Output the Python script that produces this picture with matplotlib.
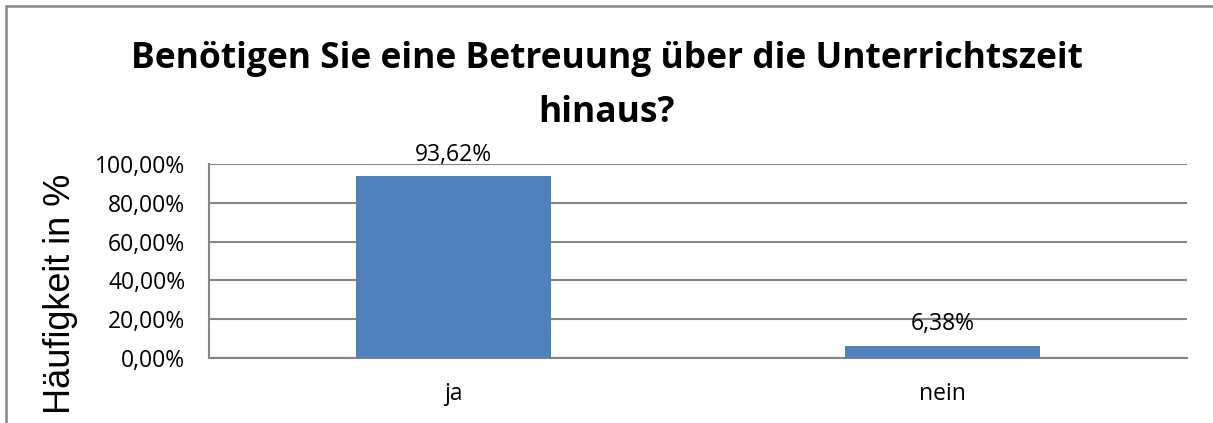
import matplotlib.pyplot as plt
from matplotlib.patches import Rectangle
from matplotlib.ticker import FuncFormatter

# Umfrage: Betreuung über die Unterrichtszeit hinaus
categories = ['ja', 'nein']
values = [93.62, 6.38]
yticks = [0, 20, 40, 60, 80, 100]

bar_color = '#4F81BD'
grid_color = '#868686'

def pct(v, pos=None):
    return '{:.2f}%'.format(v).replace('.', ',')

fig = plt.figure(figsize=(12.13, 4.23), dpi=100)
ax = fig.add_axes([0.1723, 0.1537, 0.8063, 0.4586])

x = range(len(categories))
bars = ax.bar(x, values, width=0.4, color=bar_color, zorder=3)

ax.set_xlim(-0.5, len(categories) - 0.5)
ax.set_ylim(0, 100)
ax.set_yticks(yticks)
ax.yaxis.set_major_formatter(FuncFormatter(pct))
ax.set_xticks(list(x))
ax.set_xticklabels(categories)

ax.grid(axis='y', color=grid_color, linewidth=1.5, zorder=0)
for s in ['top', 'right']:
    ax.spines[s].set_visible(False)
for s in ['left', 'bottom']:
    ax.spines[s].set_color(grid_color)
    ax.spines[s].set_linewidth(1.5)
ax.tick_params(axis='both', length=0, labelsize=16.5, colors='#000000')
ax.tick_params(axis='y', pad=17)
ax.tick_params(axis='x', pad=17)
for lab in ax.get_xticklabels() + ax.get_yticklabels():
    lab.set_family('Open Sans')

for b, v in zip(bars, values):
    ax.annotate(pct(v), (b.get_x() + b.get_width() / 2, v),
                xytext=(0, 7), textcoords='offset points',
                ha='center', va='bottom', fontsize=16.5, family='Open Sans')

fig.text(0.5, 0.797, 'Benötigen Sie eine Betreuung über die Unterrichtszeit\nhinaus?',
         ha='center', va='center', fontsize=25.5, fontweight='bold',
         family='Open Sans', linespacing=1.68)

fig.text(0.05, 0.305, 'Häufigkeit in %', rotation=90, ha='center', va='center',
         fontsize=26, family='Liberation Sans')

fig.patches.append(Rectangle((5.5 / 1213, -0.1), 1.2, 1 - 6.5 / 423 + 0.1,
                             transform=fig.transFigure, fill=False,
                             edgecolor='#878787', linewidth=1.8))

fig.savefig('out.png', dpi=100)
